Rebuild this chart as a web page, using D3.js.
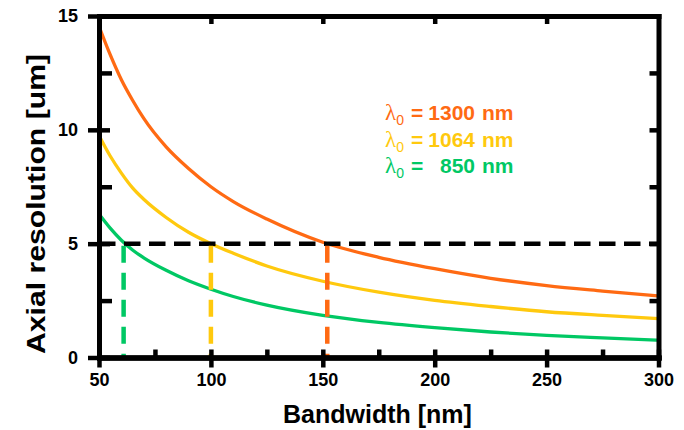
<!DOCTYPE html>
<html>
<head>
<meta charset="utf-8">
<script src="https://cdn.jsdelivr.net/npm/d3@7"></script>
<style>
  body { margin: 0; background: #fff; }
  svg { display: block; }
</style>
</head>
<body>
<script>
// Axial resolution vs. source bandwidth for three centre wavelengths
const bandwidth = [50, 55, 60, 65, 70, 80, 90, 100, 110, 125, 150, 175, 200, 225, 250, 275, 300];
const res1300 = [14.55, 13.3, 12.2, 11.3, 10.5, 9.25, 8.3, 7.5, 6.85, 6.08, 5.06, 4.4, 3.9, 3.48, 3.16, 2.92, 2.70];
const res1064 = [9.75, 8.85, 8.1, 7.45, 6.95, 6.15, 5.5, 5.0, 4.58, 4.02, 3.35, 2.87, 2.51, 2.24, 2.01, 1.85, 1.71];
const res850  = [6.3, 5.68, 5.15, 4.72, 4.38, 3.83, 3.37, 3.0, 2.68, 2.3, 1.85, 1.54, 1.31, 1.12, 0.97, 0.86, 0.76];

const wavelengths = ["1300", "1064", "850"];
const crossBandwidth = [152, 100, 61];   // bandwidth giving 5 um for each wavelength
const targetResolution = 5;

const xTicks = [50, 100, 150, 200, 250, 300];
const xMinorTicks = [75, 125, 175, 225, 275];
const yTicks = [0, 5, 10, 15];
const yMinorTicks = [2.5, 7.5, 12.5];

const colors = ["#ff6a13", "#ffc90e", "#00c864"];

const W = 684, H = 430;
const svg = d3.select("body").append("svg").attr("width", W).attr("height", H);

const x = d3.scaleLinear().domain([50, 300]).range([99, 658.5]);
const y = d3.scaleLinear().domain([0, 15]).range([357.5, 16]);

const series = [res1300, res1064, res850];

// curves
const line = d3.line()
  .x((d, i) => x(bandwidth[i]))
  .y(d => y(d))
  .curve(d3.curveMonotoneX);

svg.append("g").selectAll("path")
  .data(series)
  .join("path")
  .attr("d", d => line(d))
  .attr("fill", "none")
  .attr("stroke", (d, i) => colors[i])
  .attr("stroke-width", 3.3);

// 5 um reference line
svg.append("line")
  .attr("x1", x(50)).attr("x2", x(300))
  .attr("y1", y(targetResolution)).attr("y2", y(targetResolution))
  .attr("stroke", "#000")
  .attr("stroke-width", 4.5)
  .attr("stroke-dasharray", "16.5,8.5");

// drop lines to the bandwidth axis
svg.append("g").selectAll("line")
  .data(crossBandwidth)
  .join("line")
  .attr("x1", d => x(d)).attr("x2", d => x(d))
  .attr("y1", y(targetResolution) + 2).attr("y2", y(0))
  .attr("stroke", (d, i) => colors[i])
  .attr("stroke-width", 4.5)
  .attr("stroke-dasharray", "17,10");

// axes: each side is built from one or more d3 axes sharing the same scale
function drawAxis(axis, transform, labelled) {
  const g = svg.append("g").attr("transform", transform).call(axis);
  g.select(".domain")
    .attr("stroke", "#000")
    .attr("stroke-width", 5)
    .attr("stroke-linecap", "square");
  g.selectAll(".tick line")
    .attr("stroke", "#000")
    .attr("stroke-width", 4.5);
  g.selectAll(".tick text")
    .attr("fill", "#000")
    .style("font-family", "'Liberation Sans', Arial, sans-serif")
    .style("font-weight", "bold")
    .style("font-size", "18px");
  if (!labelled) g.selectAll(".tick text").remove();
  return g;
}

const bottomT = `translate(0,${y(0)})`;
const topT = `translate(0,${y(15)})`;
const leftT = `translate(${x(50)},0)`;
const rightT = `translate(${x(300)},0)`;

// bottom: minor ticks inside, major ticks crossing the axis
drawAxis(d3.axisBottom(x).tickValues(xMinorTicks).tickSizeInner(-8).tickSizeOuter(0), bottomT, false);
drawAxis(d3.axisBottom(x).tickValues(xTicks).tickSizeInner(-8).tickSizeOuter(0), bottomT, false);
drawAxis(d3.axisBottom(x).tickValues(xTicks).tickSizeInner(10).tickSizeOuter(0).tickPadding(5.5)
  .tickFormat(d3.format("d")), bottomT, true);

// top: short inward ticks
drawAxis(d3.axisTop(x).tickValues([100, 150, 200, 250]).tickSizeInner(-8).tickSizeOuter(0), topT, false);

// left
drawAxis(d3.axisLeft(y).tickValues(yMinorTicks).tickSizeInner(-13).tickSizeOuter(0), leftT, false);
drawAxis(d3.axisLeft(y).tickValues(yTicks).tickSizeInner(-11).tickSizeOuter(0), leftT, false);
drawAxis(d3.axisLeft(y).tickValues(yTicks).tickSizeInner(11).tickSizeOuter(0).tickPadding(10)
  .tickFormat(d3.format("d")), leftT, true);

// right: inward ticks
drawAxis(d3.axisRight(y).tickValues([2.5, 5, 7.5, 10, 12.5]).tickSizeInner(-9).tickSizeOuter(0), rightT, false);

// axis titles
svg.append("text")
  .attr("x", 377.5).attr("y", 423)
  .attr("text-anchor", "middle")
  .style("font-family", "'Liberation Sans', Arial, sans-serif")
  .style("font-weight", "bold")
  .style("font-size", "25px")
  .attr("fill", "#000")
  .text("Bandwidth [nm]");

svg.append("text")
  .attr("transform", "translate(45,204) rotate(-90)")
  .attr("text-anchor", "middle")
  .attr("textLength", 300)
  .attr("lengthAdjust", "spacingAndGlyphs")
  .style("font-family", "'Liberation Sans', Arial, sans-serif")
  .style("font-weight", "bold")
  .style("font-size", "26px")
  .attr("fill", "#000")
  .text("Axial resolution [um]");

// legend
const legend = svg.append("g");
wavelengths.forEach((w, i) => {
  const base = 120 + i * 26.5;
  const t = legend.append("text")
    .attr("x", 385).attr("y", base)
    .attr("fill", colors[i]);
  t.append("tspan")
    .style("font-family", "'Liberation Serif', 'Times New Roman', serif")
    .style("font-size", "23px")
    .text("λ");
  t.append("tspan")
    .attr("dy", 5)
    .style("font-family", "'Liberation Sans', Arial, sans-serif")
    .style("font-size", "14px")
    .text("0");
  t.append("tspan")
    .attr("x", 411).attr("dy", -5)
    .style("font-family", "'Liberation Sans', Arial, sans-serif")
    .style("font-weight", "bold")
    .style("font-size", "21px")
    .text("=");
  legend.append("text")
    .attr("x", 475).attr("y", base)
    .attr("text-anchor", "end")
    .attr("fill", colors[i])
    .style("font-family", "'Liberation Sans', Arial, sans-serif")
    .style("font-weight", "bold")
    .style("font-size", "21px")
    .text(w);
  legend.append("text")
    .attr("x", 482).attr("y", base)
    .attr("fill", colors[i])
    .style("font-family", "'Liberation Sans', Arial, sans-serif")
    .style("font-weight", "bold")
    .style("font-size", "21px")
    .text("nm");
});
</script>
</body>
</html>
